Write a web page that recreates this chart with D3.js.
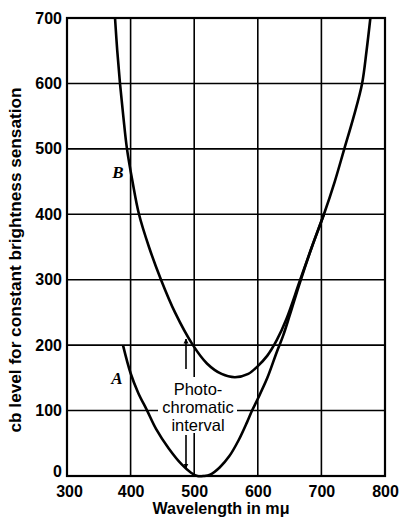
<!DOCTYPE html>
<html><head><meta charset="utf-8">
<script src="https://cdn.jsdelivr.net/npm/d3@7"></script>
<style>body{margin:0;background:#fff}svg{display:block}</style>
</head><body>
<script>
const xTicks = [300, 400, 500, 600, 700, 800];
const yTicks = [0, 100, 200, 300, 400, 500, 600, 700];
const curveAWave = [388, 400, 412, 426, 440, 460, 480, 495, 505, 515, 525, 540, 555, 570, 583, 591, 600, 615, 630, 640, 650, 666, 685, 704];
const curveAVal  = [200, 157, 127, 100, 72, 42, 18, 5, 0, 0, 2, 13, 30, 55, 82, 100, 118, 150, 190, 215, 245, 295, 350, 400];
const curveBWave = [375.5, 379, 383.3, 388.5, 394.3, 403, 413.2, 428.9, 447.8, 469.8, 498, 520, 543, 564, 585, 600, 615, 630, 645, 666, 685, 704, 721, 736, 751, 764, 771, 777];
const curveBVal  = [700, 650, 600, 550, 500, 450, 400, 350, 300, 250, 200, 172, 156, 151, 156, 168, 184, 208, 240, 298, 350, 400, 450, 500, 550, 600, 650, 700];
const xTitle = "Wavelength in mμ";
const yTitle = "cb level for constant brightness sensation";
const noteLines = ["Photo-", "chromatic", "interval"];

const W = 400, H = 518;
const m = {l: 67, t: 18, r: 15, b: 42};
const svg = d3.select("body").append("svg").attr("width", W).attr("height", H);
const x = d3.scaleLinear().domain([300, 800]).range([m.l, W - m.r]);
const y = d3.scaleLinear().domain([0, 700]).range([H - m.b, m.t]);
const font = "'Liberation Sans', Arial, sans-serif";

// grid
const g = svg.append("g");
g.selectAll("line.v").data(xTicks).join("line")
  .attr("x1", d => x(d)).attr("x2", d => x(d)).attr("y1", y(0)).attr("y2", y(700))
  .attr("stroke", "#000").attr("stroke-width", 1.6);
g.selectAll("line.h").data(yTicks).join("line")
  .attr("y1", d => y(d)).attr("y2", d => y(d)).attr("x1", x(300)).attr("x2", x(800))
  .attr("stroke", "#000").attr("stroke-width", 1.6);
g.append("rect").attr("x", x(300)).attr("y", y(700)).attr("width", x(800) - x(300)).attr("height", y(0) - y(700))
  .attr("fill", "none").attr("stroke", "#000").attr("stroke-width", 2.2);

// axes labels via d3 axes
const xAxis = svg.append("g").attr("transform", `translate(0,${y(0)})`)
  .call(d3.axisBottom(x).tickValues(xTicks).tickSize(0).tickPadding(10).tickFormat(d3.format("d")));
const yAxis = svg.append("g").attr("transform", `translate(${x(300)},0)`)
  .call(d3.axisLeft(y).tickValues(yTicks).tickSize(0).tickPadding(5).tickFormat(d3.format("d")));
[xAxis, yAxis].forEach(a => {
  a.select(".domain").remove();
  a.selectAll("text").attr("font-family", font).attr("font-weight", "bold").attr("font-size", 16).attr("fill", "#000");
});
xAxis.selectAll("text").filter(d => d === 300).attr("dx", 2);
yAxis.selectAll("text").filter(d => d === 0).attr("dy", "0.0em");

svg.append("text").attr("x", 221).attr("y", 514).attr("text-anchor", "middle")
  .attr("font-family", font).attr("font-weight", "bold").attr("font-size", 16)
  .attr("textLength", 137).attr("lengthAdjust", "spacingAndGlyphs").text(xTitle);
svg.append("text").attr("transform", `translate(21,260) rotate(-90)`).attr("text-anchor", "middle")
  .attr("font-family", font).attr("font-weight", "bold").attr("font-size", 16)
  .attr("textLength", 345).attr("lengthAdjust", "spacingAndGlyphs").text(yTitle);

// note text with white backing
const noteX = 198;
svg.append("rect").attr("x", 158).attr("y", 377).attr("width", 79).attr("height", 56).attr("fill", "#fff");
noteLines.forEach((t, i) => {
  svg.append("text").attr("x", noteX).attr("y", 395 + i * 18).attr("text-anchor", "middle")
    .attr("font-family", font).attr("font-size", 16.5).text(t);
});

// arrows
const ax = 186;
svg.append("defs").append("marker").attr("id", "ah").attr("viewBox", "0 0 10 10").attr("refX", 9).attr("refY", 5)
  .attr("markerWidth", 5).attr("markerHeight", 8).attr("orient", "auto-start-reverse").attr("markerUnits", "userSpaceOnUse")
  .append("path").attr("d", "M0,0 L10,5 L0,10 z").attr("fill", "#000");
svg.append("line").attr("x1", ax).attr("x2", ax).attr("y1", 369).attr("y2", 339)
  .attr("stroke", "#000").attr("stroke-width", 1.6).attr("marker-end", "url(#ah)");
svg.append("line").attr("x1", ax).attr("x2", ax).attr("y1", 435).attr("y2", 468)
  .attr("stroke", "#000").attr("stroke-width", 1.6).attr("marker-end", "url(#ah)");

// curves
const line = d3.line().x(d => x(d[0])).y(d => y(d[1])).curve(d3.curveCatmullRom.alpha(0.5));
const A = curveAWave.map((w, i) => [w, curveAVal[i]]);
const B = curveBWave.map((w, i) => [w, curveBVal[i]]);
svg.append("path").attr("d", line(A)).attr("fill", "none").attr("stroke", "#000").attr("stroke-width", 2.6);
svg.append("path").attr("d", line(B)).attr("fill", "none").attr("stroke", "#000").attr("stroke-width", 2.6);

// curve labels
const serif = "'Liberation Serif', 'Times New Roman', serif";
svg.append("text").attr("x", 118).attr("y", 178).attr("text-anchor", "middle").attr("font-family", serif)
  .attr("font-style", "italic").attr("font-weight", "bold").attr("font-size", 17).text("B");
svg.append("text").attr("x", 117).attr("y", 384).attr("text-anchor", "middle").attr("font-family", serif)
  .attr("font-style", "italic").attr("font-weight", "bold").attr("font-size", 17).text("A");
</script>
</body></html>
